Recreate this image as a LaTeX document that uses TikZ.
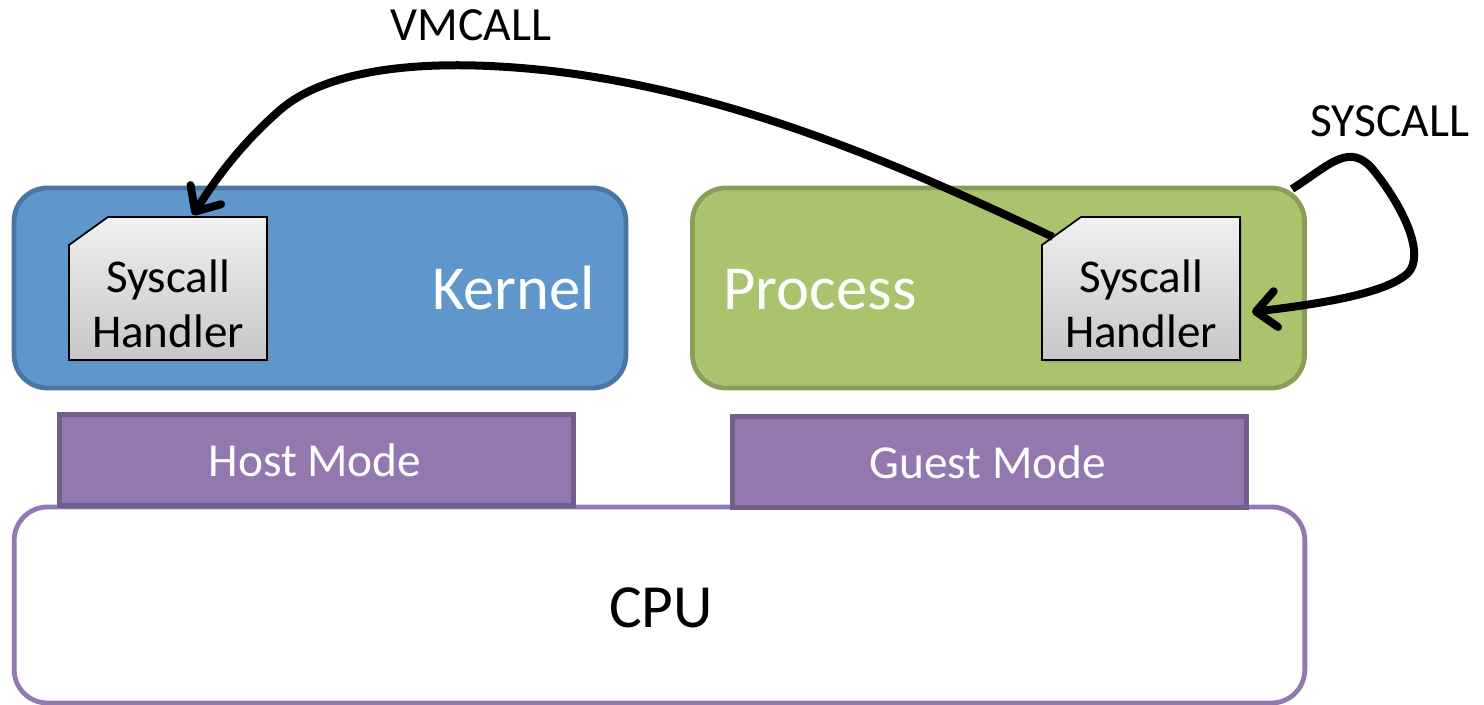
\documentclass[tikz,border=0pt]{standalone}
\usepackage{fontspec}
\setmainfont{Carlito}
\usetikzlibrary{shadows,arrows.meta,calc}
\definecolor{kfill}{HTML}{5F96CB}
\definecolor{kline}{HTML}{4A76A6}
\definecolor{pfill}{HTML}{AAC46E}
\definecolor{pline}{HTML}{8A9E59}
\definecolor{mfill}{HTML}{9378B0}
\definecolor{mline}{HTML}{715E8A}
\definecolor{cline}{HTML}{9379B3}
\newcommand{\handlershape}[1]{%
  \path[handlerface] ($(#1.north west)+(39,0)$) -- (#1.north east) -- (#1.south east)
    -- (#1.south west) -- ($(#1.north west)+(0,28)$) -- cycle;}
\tikzset{
  x=0.75pt,y=-0.75pt,
  panel/.style={draw=#1,line width=3.6pt,rounded corners=25pt,minimum width=459pt,minimum height=150pt,outer sep=0pt},
  modebox/.style={draw=mline,fill=mfill,line width=3.75pt,minimum width=385.5pt,minimum height=67.5pt,outer sep=0pt},
  handleranchor/.style={minimum width=148.5pt,minimum height=107.25pt,inner sep=0pt,outer sep=0pt},
  handlerface/.style={draw=black,line width=1.3pt,line join=miter,top color=black!6,bottom color=black!22,
    drop shadow={shadow xshift=1.5pt,shadow yshift=-2pt,opacity=0.35}},
  handlertext/.style={align=center,font=\fontsize{35.3}{41.25}\selectfont,inner sep=0pt},
  biglabel/.style={text=white,anchor=base,font=\fontsize{47}{50}\selectfont},
  modelabel/.style={text=white,anchor=base,font=\fontsize{35.5}{40}\selectfont},
  calllabel/.style={text=black,anchor=base,font=\fontsize{35.7}{40}\selectfont},
  callarrow/.style={line width=6pt,{Straight Barb[round,length=15pt,width=27pt,line width=6pt]}-,black},
}
\begin{document}
\begin{tikzpicture}
\useasboundingbox (0,0) rectangle (1484,705);
\node[panel=cline,fill=white,minimum width=968pt,minimum height=147pt] (cpu) at (659.5,605) {};
\node[panel=kline,fill=kfill] (kernel) at (320,288) {};
\node[panel=pline,fill=pfill] (process) at (998.5,288) {};
\node[modebox] (host) at (316,460) {};
\node[modebox] (guest) at (989,462) {};
\node[handleranchor] (h1) at (168,288.5) {};
\node[handleranchor] (h2) at (1141,288.5) {};
\handlershape{h1}
\handlershape{h2}
\node[handlertext] (h1text) at (168,304) {Syscall\\Handler};
\node[handlertext] (h2text) at (1141,304) {Syscall\\Handler};
\node[biglabel] (kernellabel) at (513.5,310) {Kernel};
\node[biglabel] (processlabel) at (820,310) {Process};
\node[modelabel] (hostlabel) at (315,476) {Host Mode};
\node[modelabel] (guestlabel) at (988,479) {Guest Mode};
\node[text=black,anchor=base,font=\fontsize{46}{50}\selectfont] (cpulabel) at (661,627) {CPU};
\node[calllabel] (vmlabel) at (471,41) {VMCALL};
\node[calllabel] (syslabel) at (1390,137) {SYSCALL};
\coordinate (vmstart) at ($(h2.north west)+(11,20)$);
\coordinate (sysstart) at (1292,189);
\draw[callarrow] ($(h1.north)+(25,-2)$) .. controls (215,180) and (240,145) .. (280,110)
  .. controls (325,71) and (420,55) .. (560,72)
  .. controls (740,95) and (900,165) .. (vmstart);
\draw[callarrow] ($(h2.east)+(12,23.5)$) .. controls (1310,305) and (1385,295) .. (1408,273)
  .. controls (1425,255) and (1405,210) .. (1375,172)
  .. controls (1350,140) and (1330,165) .. (sysstart);
\end{tikzpicture}
\end{document}
